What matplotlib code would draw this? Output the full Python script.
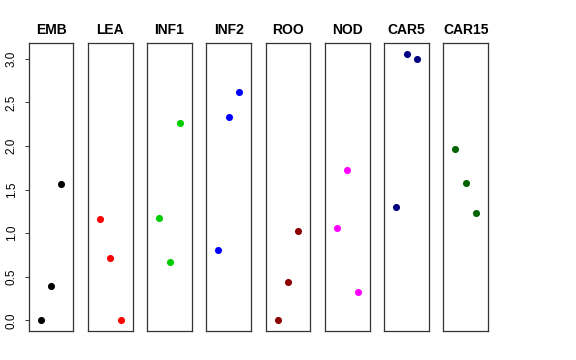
import matplotlib
matplotlib.use('Agg')
import matplotlib.pyplot as plt

groups = ['EMB', 'LEA', 'INF1', 'INF2', 'ROO', 'NOD', 'CAR5', 'CAR15']
colors = ['black', 'red', '#00CD00', 'blue', '#8B0000', 'magenta', '#000080', '#006400']
x_pos = [1, 2, 3]
values = {
    'EMB':   [0.0, 0.39, 1.56],
    'LEA':   [1.16, 0.71, 0.0],
    'INF1':  [1.17, 0.67, 2.26],
    'INF2':  [0.81, 2.33, 2.62],
    'ROO':   [0.0, 0.44, 1.03],
    'NOD':   [1.06, 1.72, 0.33],
    'CAR5':  [1.30, 3.06, 3.00],
    'CAR15': [1.97, 1.58, 1.23],
}
yticks = [0.0, 0.5, 1.0, 1.5, 2.0, 2.5, 3.0]

plt.rcParams['font.family'] = ['Liberation Sans', 'DejaVu Sans']

W, H = 576, 360
fig = plt.figure(figsize=(W / 100, H / 100), dpi=100)

left0, step, width = 28.7, 59.25, 44.7
bottom, top = 29, 317

for i, g in enumerate(groups):
    ax = fig.add_axes([(left0 + i * step) / W, bottom / H, width / W, (top - bottom) / H])
    ax.scatter(x_pos, values[g], s=26, color=colors[i], zorder=3, linewidths=0)
    ax.set_xlim(-0.16, 4.16)
    ax.set_ylim(-0.1224, 3.1824)
    ax.set_title(g, fontsize=10, fontweight='bold', pad=6.5)
    ax.set_xticks([])
    for sp in ax.spines.values():
        sp.set_color('#333333')
        sp.set_linewidth(0.9)
    if i == 0:
        ax.set_yticks(yticks)
        ax.set_yticklabels(['%.1f' % t for t in yticks], rotation=90, va='center', fontsize=8.5)
        ax.tick_params(axis='y', length=3, width=0.7, pad=5, color='#333333')
    else:
        ax.set_yticks([])

fig.savefig('out.png', dpi=100)
